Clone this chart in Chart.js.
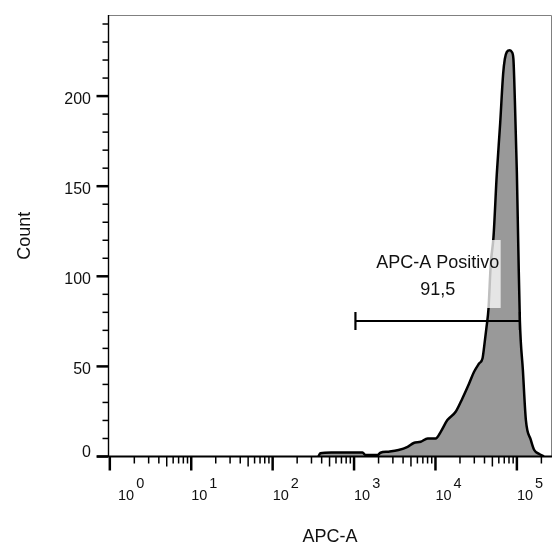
<!DOCTYPE html>
<html>
<head>
<meta charset="utf-8">
<script src="https://cdn.jsdelivr.net/npm/chart.js@4"></script>
<style>
html, body { margin: 0; padding: 0; background: #fff; }
</style>
</head>
<body>
<canvas id="histChart" width="555" height="550"></canvas>
<script>
// APC-A intensity (x) and event count (y)
const apcValues = [365, 385, 527, 1270, 1380, 1940, 2110, 2650, 3520, 4550, 5400, 6580, 8020, 10050,
    11600, 14000, 17700, 21400, 25900, 29800, 34300, 37800, 39600, 42400, 44800, 47800, 51600, 56700,
    62300, 67800, 71100, 75300, 82000, 86700, 90600, 94500, 100000, 104300, 108800, 118500, 129000,
    148600, 163300, 188400, 215000];
const counts = [0, 1.8, 2.2, 2.2, 0.8, 0.8, 2.1, 2.7, 3.6, 5.4, 7.5, 8.2, 10, 10,
    13.7, 20.2, 24.8, 32.2, 40.5, 47, 51.6, 54.4, 60.8, 71.9, 82, 107, 121.7, 157,
    184.7, 212.3, 220.6, 224.5, 225.5, 224.5, 220.7, 197.4, 157, 114.3, 75.6, 47.9, 20.2,
    9.1, 3.6, 1.4, 0];

const xDecades = [0, 1, 2, 3, 4, 5];
const yMajorTicks = [0, 50, 100, 150, 200];
const yMinorStep = 10;

const gateRange = [1040, 108900];
const gateLevel = 75.2;
const gateName = 'APC-A Positivo';
const gatePercent = '91,5';

const xTitle = 'APC-A';
const yTitle = 'Count';

const FONT = '"Liberation Sans", Arial, sans-serif';

const flowAxes = {
    id: 'flowAxes',
    afterDatasetsDraw(chart) {
        const ctx = chart.ctx;
        const area = chart.chartArea;
        const xs = chart.scales.x;
        const ys = chart.scales.y;
        const y0 = ys.getPixelForValue(0);
        ctx.save();

        // frame top / right
        ctx.strokeStyle = '#808080';
        ctx.lineWidth = 1;
        ctx.beginPath();
        ctx.moveTo(area.left, area.top + 0.5);
        ctx.lineTo(area.right - 0.5, area.top + 0.5);
        ctx.lineTo(area.right - 0.5, y0);
        ctx.stroke();

        // y axis line
        ctx.strokeStyle = '#000';
        ctx.lineWidth = 1.4;
        ctx.beginPath();
        ctx.moveTo(area.left + 0.5, area.top);
        ctx.lineTo(area.left + 0.5, y0);
        ctx.stroke();

        // y ticks
        for (let v = 0; v <= ys.max; v += yMinorStep) {
            const py = ys.getPixelForValue(v);
            const major = v % 50 === 0;
            ctx.lineWidth = major ? 2.5 : 1.5;
            ctx.beginPath();
            ctx.moveTo(area.left - (major ? 11.5 : 5.5), py);
            ctx.lineTo(area.left, py);
            ctx.stroke();
        }

        // baseline / x axis
        ctx.lineWidth = 2;
        ctx.beginPath();
        ctx.moveTo(area.left - 11, y0);
        ctx.lineTo(area.right, y0);
        ctx.stroke();

        // x ticks
        xDecades.forEach(d => {
            for (let k = 1; k <= 9; k++) {
                const v = k * Math.pow(10, d);
                if (v < xs.min || v > xs.max) continue;
                const px = xs.getPixelForValue(v);
                const len = k === 1 ? 14 : (k === 5 ? 10 : 7);
                ctx.lineWidth = k === 1 ? 2.5 : 1.5;
                ctx.beginPath();
                ctx.moveTo(px, y0);
                ctx.lineTo(px, y0 + len);
                ctx.stroke();
            }
        });

        ctx.fillStyle = '#111';

        // y tick labels
        ctx.font = '16px ' + FONT;
        ctx.textAlign = 'right';
        ctx.textBaseline = 'alphabetic';
        yMajorTicks.forEach(v => {
            const py = ys.getPixelForValue(v);
            ctx.fillText(String(v), area.left - 17, v === 0 ? py : py + 8);
        });

        // x tick labels 10^n
        ctx.font = '14.5px ' + FONT;
        ctx.textAlign = 'left';
        xDecades.forEach(d => {
            const px = Math.max(xs.getPixelForValue(Math.pow(10, d)), area.left + 10);
            ctx.fillText('10', px, y0 + 43);
            const w = ctx.measureText('10').width;
            ctx.fillText(String(d), px + w + 2, y0 + 31.5);
        });

        // axis titles
        ctx.font = '18px ' + FONT;
        ctx.textAlign = 'center';
        ctx.textBaseline = 'middle';
        ctx.fillText(xTitle, (area.left + area.right) / 2, 537);
        ctx.save();
        ctx.translate(25, (area.top + y0) / 2);
        ctx.rotate(-Math.PI / 2);
        ctx.fillText(yTitle, 0, 0);
        ctx.restore();

        // gate
        const gx1 = xs.getPixelForValue(gateRange[0]);
        const gx2 = xs.getPixelForValue(gateRange[1]);
        const gy = ys.getPixelForValue(gateLevel);
        ctx.strokeStyle = '#000';
        ctx.lineWidth = 2.2;
        ctx.beginPath();
        ctx.moveTo(gx1, gy);
        ctx.lineTo(gx2, gy);
        ctx.moveTo(gx1, gy - 9);
        ctx.lineTo(gx1, gy + 9);
        ctx.moveTo(gx2, gy - 9);
        ctx.lineTo(gx2, gy + 9);
        ctx.stroke();

        // gate label box + text
        const cx = (gx1 + gx2) / 2;
        ctx.fillStyle = 'rgba(255,255,255,0.75)';
        ctx.fillRect(cx - 63, gy - 81, 126, 68);
        ctx.fillStyle = '#111';
        ctx.font = '18px ' + FONT;
        ctx.textAlign = 'center';
        ctx.textBaseline = 'alphabetic';
        ctx.fillText(gateName, cx, gy - 53);
        ctx.fillText(gatePercent, cx, gy - 25.5);

        ctx.restore();
    }
};

const ctx = document.getElementById('histChart').getContext('2d');
new Chart(ctx, {
    type: 'line',
    data: {
        datasets: [{
            data: apcValues.map((v, i) => ({ x: v, y: counts[i] })),
            borderColor: '#000',
            borderWidth: 2.5,
            backgroundColor: '#999999',
            fill: 'origin',
            pointRadius: 0,
            cubicInterpolationMode: 'monotone'
        }]
    },
    options: {
        responsive: false,
        animation: false,
        layout: {
            padding: { left: 108, right: 3, top: 15, bottom: 93.5 }
        },
        scales: {
            x: { type: 'logarithmic', min: 0.95, max: 270000, display: false },
            y: { type: 'linear', min: 0, max: 245, display: false }
        },
        plugins: {
            legend: { display: false },
            tooltip: { enabled: false }
        }
    },
    plugins: [flowAxes]
});
</script>
</body>
</html>
